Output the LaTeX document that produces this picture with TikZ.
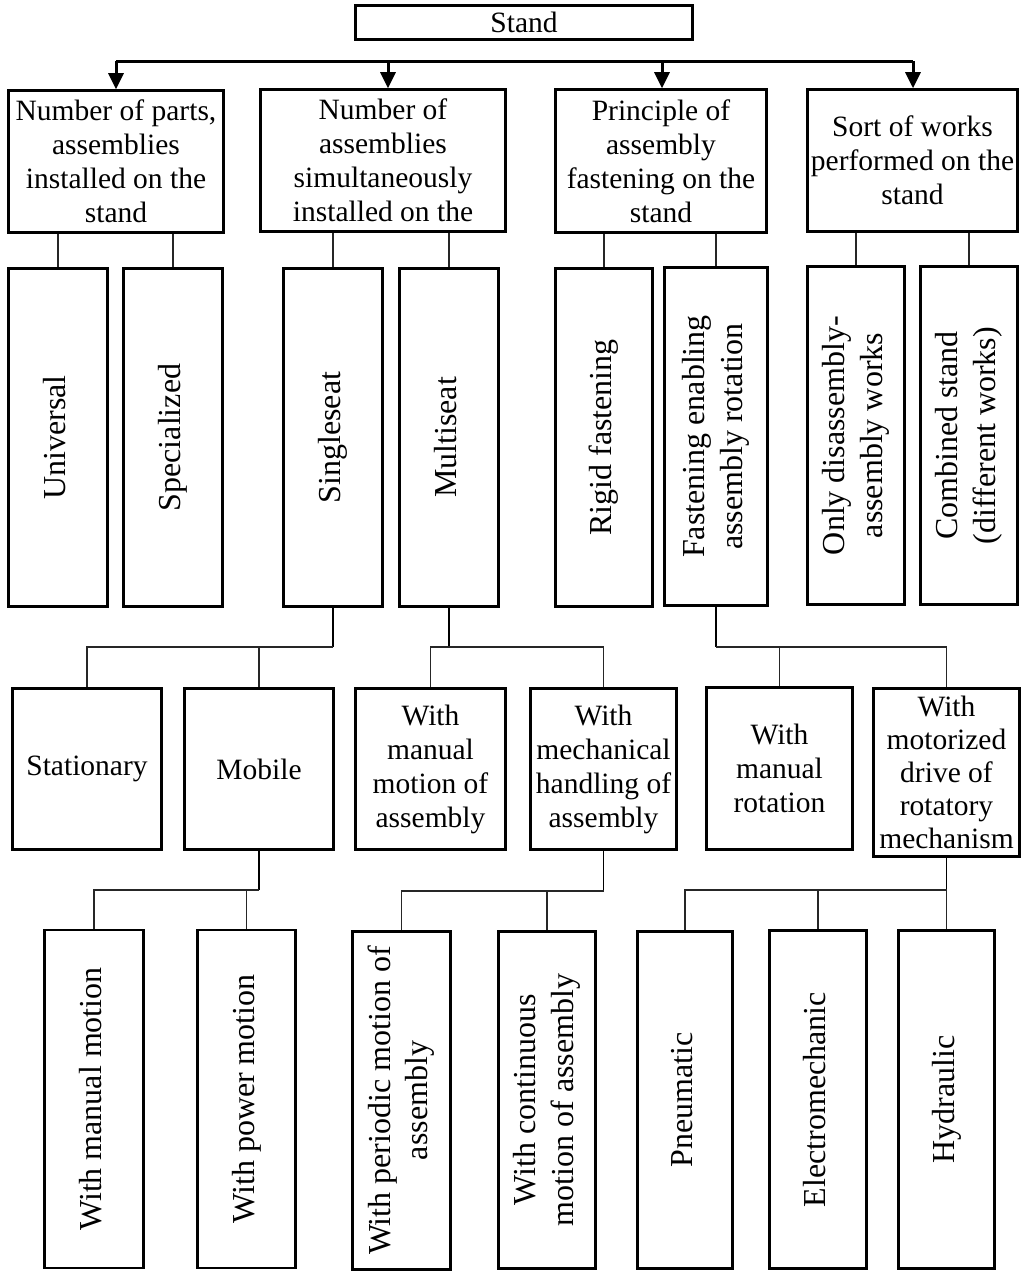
\documentclass[tikz,border=0pt]{standalone}
\usepackage{fontspec}
\setmainfont{Liberation Serif}
\usetikzlibrary{arrows.meta}
\tikzset{
  box/.style={draw, line width=2.6pt, inner sep=0pt, align=center, font=\fontsize{29.5}{34}\selectfont},
  conn/.style={line width=1.4pt, black!85},
  pconn/.style={line width=1.8pt},
  bus/.style={line width=3pt},
  arr/.style={line width=3pt, -{Triangle[length=16pt,width=15pt]}},
}
\newcommand{\vtext}[1]{\rotatebox{90}{\fontsize{32}{37.5}\selectfont\begin{tabular}{@{}c@{}}#1\end{tabular}}}
\begin{document}
\begin{tikzpicture}[x=1pt,y=-1pt]
\fill[white] (0,0) rectangle (1033,1272);
\useasboundingbox (0,0) rectangle (1033,1272);

% root
\node[box, minimum width=337, minimum height=34] (stand) at (524,22.5) {Stand};

% level 1
\node[box, minimum width=215, minimum height=142] (c1) at (116,161.5) {Number of parts,\\assemblies\\installed on the\\stand};
\node[box, minimum width=245, minimum height=142] (c2) at (383,160.5) {Number of\\assemblies\\simultaneously\\installed on the};
\node[box, minimum width=211, minimum height=143] (c3) at (661,161) {Principle of\\assembly\\fastening on the\\stand};
\node[box, minimum width=210, minimum height=142] (c4) at (912.5,160.5) {Sort of works\\performed on the\\stand};

% bus with arrows
\coordinate (b1) at (116,61);
\coordinate (b2) at (388,61);
\coordinate (b3) at (662,61);
\coordinate (b4) at (913,61);
\draw[bus] (b1) -- (b4);
\draw[arr] (b1) -- (b1 |- c1.north);
\draw[arr] (b2) -- (b2 |- c2.north);
\draw[arr] (b3) -- (b3 |- c3.north);
\draw[arr] (b4) -- (b4 |- c4.north);

% level 2
\node[box, minimum width=99, minimum height=338] (univ) at (58,437.5) {\vtext{Universal}};
\node[box, minimum width=99, minimum height=338] (spec) at (173,437.5) {\vtext{Specialized}};
\node[box, minimum width=99, minimum height=338] (single) at (333,437.5) {\vtext{Singleseat}};
\node[box, minimum width=99, minimum height=338] (multi) at (449,437.5) {\vtext{Multiseat}};
\node[box, minimum width=97, minimum height=338] (rigid) at (604,437.5) {\vtext{Rigid fastening}};
\node[box, minimum width=103, minimum height=338] (fasten) at (716,436.5) {\vtext{Fastening enabling\\assembly rotation}};
\node[box, minimum width=97, minimum height=338] (only) at (856,435.5) {\vtext{Only disassembly-\\assembly works}};
\node[box, minimum width=97, minimum height=338] (comb) at (969,435.5) {\vtext{Combined stand\\(different works)}};

\draw[conn] (univ.north) -- (univ.north |- c1.south);
\draw[conn] (spec.north) -- (spec.north |- c1.south);
\draw[conn] (single.north) -- (single.north |- c2.south);
\draw[conn] (multi.north) -- (multi.north |- c2.south);
\draw[conn] (rigid.north) -- (rigid.north |- c3.south);
\draw[conn] (fasten.north) -- (fasten.north |- c3.south);
\draw[conn] (only.north) -- (only.north |- c4.south);
\draw[conn] (comb.north) -- (comb.north |- c4.south);

% level 3
\node[box, minimum width=149, minimum height=161] (stat) at (87,769) {Stationary};
\node[box, minimum width=149, minimum height=161] (mob) at (259,769) {Mobile};
\node[box, minimum width=150, minimum height=161] (wmm) at (430.5,769) {With\\manual\\motion of\\assembly};
\node[box, minimum width=146, minimum height=161] (wmh) at (603.5,769) {With\\mechanical\\handling of\\assembly};
\node[box, minimum width=146, minimum height=162] (wmr) at (779.5,768.5) {With\\manual\\rotation};
\node[box, minimum width=146, minimum height=168, font=\fontsize{29.5}{33}\selectfont] (wmd) at (946.5,772.5) {With\\motorized\\drive of\\rotatory\\mechanism};

\coordinate (j1) at (333,647);
\coordinate (j2) at (449,647);
\coordinate (j3) at (716,647);
\draw[pconn] (single.south) -- (j1);
\draw[conn] (j1) -| (stat.north);
\draw[conn] (mob.north) -- (mob.north |- j1);
\draw[pconn] (multi.south) -- (j2);
\draw[conn] (wmm.north) |- (j2) -| (wmh.north);
\draw[pconn] (fasten.south) -- (j3);
\draw[conn] (j3) -| (wmd.north);
\draw[conn] (wmr.north) -- (wmr.north |- j3);

% level 4
\node[box, minimum width=99, minimum height=338] (wman) at (94,1099) {\vtext{With manual motion}};
\node[box, minimum width=98, minimum height=338] (wpow) at (246.5,1099) {\vtext{With power motion}};
\node[box, minimum width=98, minimum height=338] (wper) at (401.5,1100.5) {\vtext{With periodic motion of\\assembly}};
\node[box, minimum width=97, minimum height=337] (wcon) at (547,1100) {\vtext{With continuous\\motion of assembly}};
\node[box, minimum width=95, minimum height=337] (pneu) at (685,1100) {\vtext{Pneumatic}};
\node[box, minimum width=97, minimum height=338] (elec) at (818,1099.5) {\vtext{Electromechanic}};
\node[box, minimum width=96, minimum height=338] (hydr) at (946.5,1099.5) {\vtext{Hydraulic}};

\coordinate (k1) at (259,890);
\coordinate (k2) at (603.5,891);
\coordinate (k3) at (946.5,890);
\draw[pconn] (mob.south) -- (k1);
\draw[conn] (k1) -| (wman.north);
\draw[conn] (wpow.north) -- (wpow.north |- k1);
\draw[pconn] (wmh.south) -- (k2);
\draw[conn] (k2) -| (wper.north);
\draw[conn] (wcon.north) -- (wcon.north |- k2);
\draw[pconn] (wmd.south) -- (k3);
\draw[conn] (k3) -| (pneu.north);
\draw[conn] (elec.north) -- (elec.north |- k3);
\draw[conn] (hydr.north) -- (hydr.north |- k3);
\end{tikzpicture}
\end{document}
